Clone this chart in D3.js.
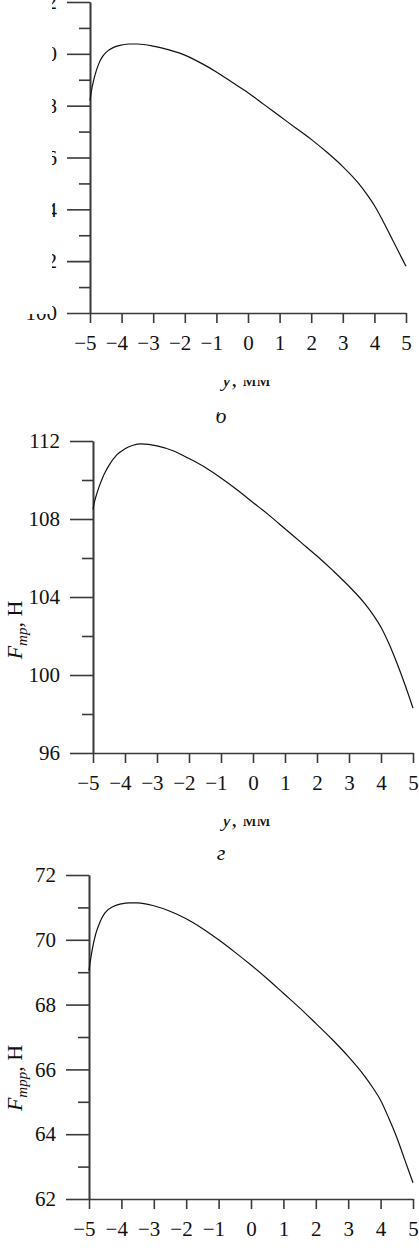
<!DOCTYPE html>
<head>
<meta charset="utf-8">
<title>F(y) panels</title>
<style>
body { margin: 0; background: #fff; }
svg { font-family: "Liberation Serif", "DejaVu Serif", serif; }
.axis path, .axis line { stroke: #3a3a3a; stroke-width: 1.6; fill: none; }
.axis text { font-size: 21px; fill: #111; font-family: "Liberation Serif", serif; }
.curve { fill: none; stroke: #111; stroke-width: 1.2; }
.ttl { font-size: 22px; fill: #111; }
</style>
</head>
<body>
<svg id="chart" width="419" height="1257"></svg>
<script src="https://d3js.org/d3.v7.min.js"></script>
<script>

// displacement y, mm
var xs = [-5, -4.95, -4.9, -4.8, -4.7, -4.6, -4.5, -4.25, -4, -3.75, -3.5, -3, -2.5, -2, -1.5, -1,
          -0.5, 0, 0.5, 1, 1.5, 2, 2.5, 3, 3.5, 3.75, 4, 4.25, 4.5, 4.75, 5];

// panel b (top, cropped)
var fB = [108.2, 108.6, 108.9, 109.35, 109.68, 109.9, 110.05, 110.25, 110.34, 110.38, 110.38, 110.3,
          110.15, 109.95, 109.65, 109.3, 108.9, 108.5, 108.05, 107.6, 107.15, 106.7, 106.2, 105.65,
          105.0, 104.6, 104.15, 103.6, 103.0, 102.4, 101.8];

// panel g: F_tr, N
var fTr = [108.5, 108.9, 109.2, 109.7, 110.12, 110.46, 110.75, 111.3, 111.6, 111.78, 111.85, 111.75,
           111.5, 111.1, 110.65, 110.1, 109.5, 108.85, 108.2, 107.5, 106.8, 106.1, 105.35, 104.55,
           103.65, 103.1, 102.45, 101.6, 100.6, 99.5, 98.3];

// panel e: F_trr, N
var fTrr = [69.05, 69.4, 69.7, 70.15, 70.45, 70.68, 70.84, 71.03, 71.11, 71.14, 71.14, 71.05, 70.88,
            70.65, 70.35, 70.0, 69.62, 69.22, 68.8, 68.35, 67.9, 67.42, 66.93, 66.4, 65.8, 65.45,
            65.05, 64.5, 63.9, 63.2, 62.5];

var xTicks = [-5, -4, -3, -2, -1, 0, 1, 2, 3, 4, 5];
var majB = [100, 102, 104, 106, 108, 110, 112], minB = [101, 103, 105, 107, 109, 111];
var majTr = [96, 100, 104, 108, 112], minTr = [98, 102, 106, 110];
var majTrr = [62, 64, 66, 68, 70, 72], minTrr = [63, 65, 67, 69, 71];

var svg = d3.select("#chart");

var defs = svg.append("defs");
// the top panel's labels and titles are cut off in the scan
var cb = defs.append("clipPath").attr("id", "clipB");
cb.append("rect").attr("x", 52).attr("y", -20).attr("width", 400).attr("height", 400);
cb.append("rect").attr("x", 0).attr("y", 314).attr("width", 419).attr("height", 100);
defs.append("clipPath").attr("id", "cutTitleB")
  .append("rect").attr("x", 0).attr("y", 380).attr("width", 419).attr("height", 20);
defs.append("clipPath").attr("id", "cutLetterB")
  .append("rect").attr("x", 0).attr("y", 412).attr("width", 419).attr("height", 20);
defs.append("clipPath").attr("id", "cutTitleG")
  .append("rect").attr("x", 0).attr("y", 819).attr("width", 419).attr("height", 20);
defs.append("clipPath").attr("id", "cutLetterG")
  .append("rect").attr("x", 0).attr("y", 850).attr("width", 419).attr("height", 20);

function panel(opt) {
  var x = d3.scaleLinear().domain([-5, 5]).range(opt.xr);
  var y = d3.scaleLinear().domain(opt.yd).range(opt.yr);
  var g = svg.append("g");

  var yMinor = d3.axisLeft(y).tickValues(opt.minor).tickSize(11).tickSizeOuter(0).tickFormat("");
  g.append("g").attr("class", "axis")
    .attr("transform", "translate(" + opt.xr[0] + ",0)").call(yMinor);

  var yAxis = d3.axisLeft(y).tickValues(opt.major).tickSize(23).tickSizeOuter(0).tickPadding(10)
    .tickFormat(d3.format("d"));
  var wrap = g.append("g");
  if (opt.clip) wrap.attr("clip-path", "url(#" + opt.clip + ")");
  wrap.append("g").attr("class", "axis")
    .attr("transform", "translate(" + opt.xr[0] + ",0)").call(yAxis);

  var xAxis = d3.axisBottom(x).tickValues(xTicks).tickSize(10).tickSizeOuter(0).tickPadding(12)
    .tickFormat(function(d) { return d < 0 ? "\u2212" + (-d) : d; });
  var gx = g.append("g").attr("class", "axis")
    .attr("transform", "translate(0," + opt.yr[0] + ")").call(xAxis);
  gx.selectAll("text").filter(function(d) { return d < 0; })
    .attr("text-anchor", "end").attr("x", 6);

  var line = d3.line()
    .x(function(d, i) { return x(xs[i]); })
    .y(function(d) { return y(d); })
    .curve(d3.curveMonotoneX);
  g.append("path").attr("class", "curve").attr("d", line(opt.vals));

  if (opt.ytitle) {
    var t = g.append("text").attr("class", "ttl")
      .attr("transform", "translate(" + opt.tx + "," + opt.ty + ") rotate(-90)")
      .attr("text-anchor", "middle");
    t.append("tspan").attr("font-style", "italic").text("F");
    t.append("tspan").attr("font-style", "italic").attr("font-size", 15)
      .attr("dy", 5).text(opt.ytitle);
    t.append("tspan").attr("dy", -5).text(", Н");
  }
  if (opt.xtitleY) {
    var xt = g.append("text").attr("class", "ttl").attr("text-anchor", "middle")
      .attr("x", 246).attr("y", opt.xtitleY)
      .attr("clip-path", "url(#" + opt.cutTitle + ")");
    xt.append("tspan").attr("font-style", "italic").text("y");
    xt.append("tspan").text(", мм");
    g.append("text").attr("class", "ttl").attr("font-style", "italic")
      .attr("text-anchor", "middle").attr("x", 221).attr("y", opt.letterY)
      .attr("clip-path", "url(#" + opt.cutLetter + ")").text(opt.letter);
  }
}

panel({ xr: [90, 406], yd: [100, 112], yr: [313, 2], major: majB, minor: minB, vals: fB,
        clip: "clipB", xtitleY: 386, cutTitle: "cutTitleB", letterY: 423, cutLetter: "cutLetterB", letter: "б" });
panel({ xr: [93, 413], yd: [96, 112], yr: [753, 441], major: majTr, minor: minTr, vals: fTr,
        ytitle: "тр", tx: 22, ty: 630,
        xtitleY: 826, cutTitle: "cutTitleG", letterY: 860, cutLetter: "cutLetterG", letter: "г" });
panel({ xr: [89, 413], yd: [62, 72], yr: [1199, 875], major: majTrr, minor: minTrr, vals: fTrr,
        ytitle: "трр", tx: 22, ty: 1078 });

</script>
</body>
